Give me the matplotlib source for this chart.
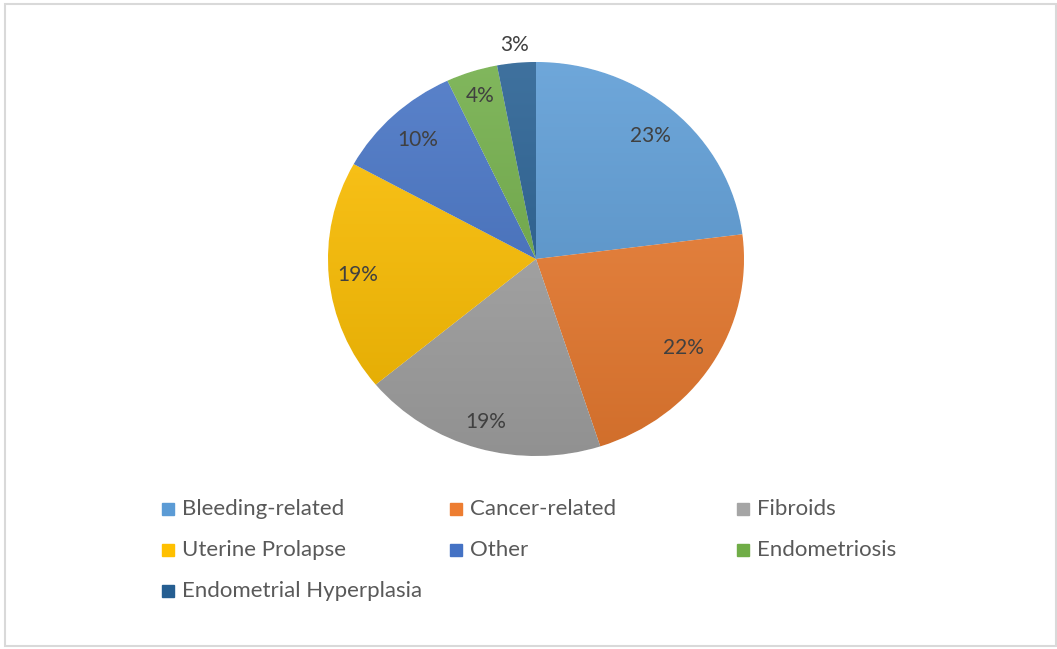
import matplotlib.pyplot as plt
import matplotlib.colors as mcolors
from matplotlib.patches import Rectangle
import numpy as np

plt.rcParams['font.family'] = ['Lato', 'DejaVu Sans']

# data
categories = ['Bleeding-related', 'Cancer-related', 'Fibroids', 'Uterine Prolapse',
              'Other', 'Endometriosis', 'Endometrial Hyperplasia']
shares = [23, 22, 19, 19, 10, 4, 3]
colors = ['#5B9BD5', '#ED7D31', '#A5A5A5', '#FFC000', '#4472C4', '#70AD47', '#255E91']
label_dist = [0.83, 0.84, 0.86, 0.86, 0.83, 0.87, 1.09]

W, H = 1057, 649
fig = plt.figure(figsize=(W / 100, H / 100), dpi=100)

# pie drawn a bit wider than tall, like the reference
rx, ry = 208, 197
cx, cy = 536, 259
lim = 1.2
ax = fig.add_axes([(cx - lim * rx) / W, (H - cy - lim * ry) / H,
                   2 * lim * rx / W, 2 * lim * ry / H])

wedges, _ = ax.pie(shares, colors=colors, startangle=90, counterclock=False,
                   wedgeprops=dict(edgecolor='white', linewidth=0.8))
ax.set_aspect('auto')
ax.set_xlim(-lim, lim)
ax.set_ylim(-lim, lim)
ax.axis('off')

# soft vertical gradient on each slice (light top, darker bottom)
grad = np.linspace(0, 1, 256).reshape(-1, 1)
for w, c in zip(wedges, colors):
    base = np.array(mcolors.to_rgb(c))
    light = base + (1 - base) * 0.12
    dark = base * 0.88
    cmap = mcolors.LinearSegmentedColormap.from_list('g', [dark, light])
    im = ax.imshow(grad, cmap=cmap, extent=(-1, 1, -1, 1), origin='lower',
                   aspect='auto', zorder=w.get_zorder())
    im.set_clip_path(w)

# percentage labels
for w, v, d in zip(wedges, shares, label_dist):
    ang = np.deg2rad((w.theta1 + w.theta2) / 2)
    ax.text(d * np.cos(ang), d * np.sin(ang), f'{v}%', ha='center', va='center',
            fontsize=15, color='#404040', zorder=5)

# legend, row by row in three columns
col_x = [162, 450, 737]
row_y = [509, 550, 591]
for i, (lab, c) in enumerate(zip(categories, colors)):
    x = col_x[i % 3]
    y = row_y[i // 3]
    fig.add_artist(Rectangle((x / W, (H - y - 6) / H), 12 / W, 12 / H,
                             transform=fig.transFigure, color=c))
    fig.text((x + 20) / W, (H - y - 6) / H, lab, ha='left', va='baseline',
             fontsize=16, color='#595959')

# outer chart frame
fig.add_artist(Rectangle((5 / W, 3 / H), (W - 6) / W, (H - 7) / H,
                         transform=fig.transFigure, fill=False,
                         edgecolor='#D9D9D9', linewidth=1.5))

fig.savefig('out.png', dpi=100)
